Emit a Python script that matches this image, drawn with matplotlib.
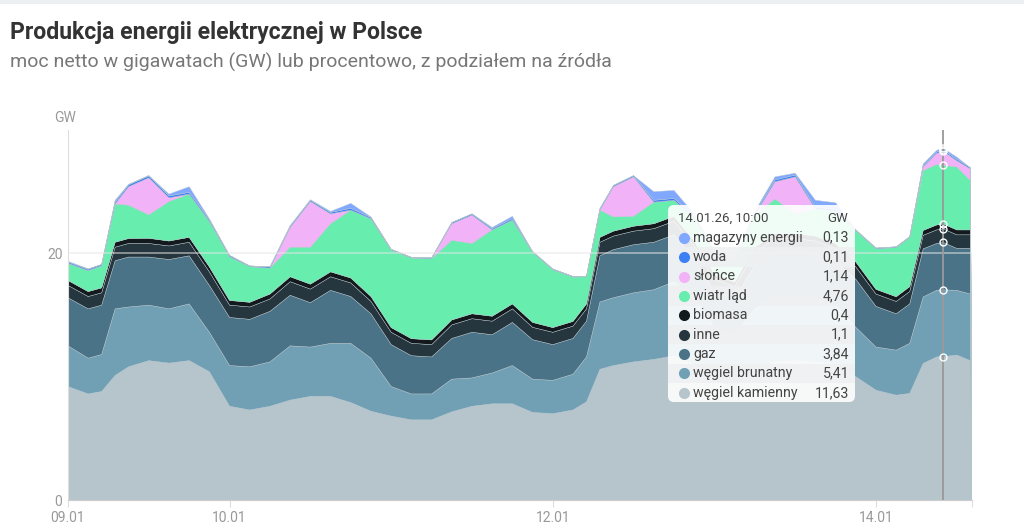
import numpy as np
import matplotlib
matplotlib.use("Agg")
import matplotlib.pyplot as plt
from matplotlib.patches import FancyBboxPatch, Rectangle

# ---------------- data (GW), hours since 09.01 00:00 ----------------
hours = [0, 3, 5, 7, 9, 12, 15, 18, 21, 24, 27, 30, 33, 36, 39, 42, 45, 48, 51, 54, 57,
         60, 63, 66, 69, 72, 75, 77, 79, 81, 84, 87, 90, 93, 96, 99, 102, 105, 108, 111,
         114, 117, 120, 123, 125, 127, 129, 130, 132, 134, 134.25]

wegiel_kamienny = [9.2, 8.6, 8.8, 10.1, 10.8, 11.3, 11.1, 11.3, 10.4, 7.6, 7.3, 7.6, 8.1,
                   8.4, 8.4, 7.9, 7.2, 6.8, 6.5, 6.5, 7.15, 7.6, 7.8, 7.8, 7.1, 7.0, 7.3,
                   7.96, 10.6, 10.9, 11.2, 11.4, 11.7, 11.0, 9.6, 9.2, 10.5, 11.2, 11.3,
                   11.2, 11.0, 10.0, 8.9, 8.5, 8.64, 11.07, 11.6, 11.63, 11.75, 11.3, 0]
wegiel_brunatny = [3.3, 2.9, 3.0, 5.4, 4.85, 4.5, 4.4, 4.6, 3.2, 3.3, 3.5, 3.6, 4.4, 4.0,
                   4.3, 4.8, 4.3, 2.4, 2.1, 2.1, 2.65, 2.3, 2.5, 3.1, 2.7, 2.7, 2.9, 3.64,
                   5.46, 5.5, 5.6, 5.65, 6.0, 5.5, 4.4, 4.2, 5.0, 5.3, 5.3, 5.2, 4.8, 4.0,
                   3.5, 3.65, 4.06, 5.39, 5.4, 5.41, 5.25, 5.4, 0]
gaz = [3.9, 4.0, 4.0, 3.9, 4.05, 3.9, 4.0, 3.9, 3.8, 3.9, 3.85, 4.1, 4.1, 3.6, 4.3, 3.8,
       3.6, 3.4, 3.1, 3.0, 3.3, 3.7, 3.1, 3.5, 3.2, 2.9, 2.9, 2.9, 3.74, 3.9, 3.9, 3.85,
       3.8, 3.0, 2.9, 2.9, 3.5, 3.6, 3.5, 3.5, 3.5, 3.9, 3.3, 2.95, 3.2, 3.9, 3.8, 3.84,
       3.4, 3.7, 0]
inne = [1.0, 1.0, 1.0, 1.1, 1.1, 1.1, 1.1, 1.1, 1.1, 1.0, 1.0, 1.0, 1.1, 1.1, 1.1, 1.1,
        1.0, 1.0, 1.0, 1.0, 1.1, 1.1, 1.1, 1.1, 1.0, 1.0, 1.0, 1.0, 1.1, 1.1, 1.1, 1.1,
        1.1, 1.1, 1.0, 1.0, 1.1, 1.1, 1.1, 1.1, 1.1, 1.0, 1.0, 1.0, 1.0, 1.1, 1.1, 1.1,
        1.1, 1.1, 0]
biomasa = [0.4, 0.4, 0.4, 0.4, 0.4, 0.42, 0.4, 0.4, 0.4, 0.38, 0.38, 0.4, 0.4, 0.4, 0.4,
           0.4, 0.4, 0.38, 0.38, 0.38, 0.4, 0.4, 0.4, 0.4, 0.4, 0.38, 0.38, 0.4, 0.4, 0.4,
           0.4, 0.4, 0.4, 0.4, 0.38, 0.38, 0.4, 0.4, 0.4, 0.4, 0.4, 0.4, 0.38, 0.38, 0.4,
           0.4, 0.4, 0.4, 0.4, 0.4, 0]
wiatr_lad = [1.4, 1.7, 1.8, 3.1, 2.7, 1.9, 3.2, 3.5, 3.7, 3.55, 2.9, 2.1, 2.4, 3.0, 3.9,
             5.5, 6.3, 6.3, 6.55, 6.6, 6.45, 5.7, 7.0, 6.8, 5.7, 4.7, 3.6, 2.2, 2.2, 1.15,
             0.8, 1.75, 1.3, 1.9, 1.7, 1.8, 2.6, 2.8, 1.6, 2.2, 2.6, 2.55, 3.3, 4.0, 4.0,
             4.84, 4.9, 4.76, 5.1, 4.0, 3.8]
slonce = [0, 0, 0, 0, 1.5, 3.0, 0.3, 0, 0, 0, 0, 0, 1.6, 3.7, 0.8, 0, 0, 0, 0, 0, 1.35,
          2.3, 0, 0, 0, 0, 0, 0, 0, 2.45, 3.2, 0, 0, 0, 0, 0, 0, 1.4, 3.0, 0, 0, 0, 0, 0,
          0, 0.3, 0.9, 1.14, 0.5, 0.95, 0.5]
woda = [0.1, 0.1, 0.1, 0.15, 0.15, 0.15, 0.15, 0.15, 0.12, 0.1, 0.05, 0.1, 0.1, 0.1, 0.12,
        0.15, 0.1, 0.05, 0.05, 0.05, 0.1, 0.1, 0.1, 0.12, 0.05, 0.05, 0.05, 0.05, 0.1, 0.1,
        0.1, 0.15, 0.15, 0.12, 0.1, 0.1, 0.15, 0.15, 0.15, 0.15, 0.15, 0.05, 0.05, 0.05,
        0.05, 0.1, 0.11, 0.11, 0.12, 0.1, 0]
magazyny_energii = [0.05, 0.05, 0.0, 0.15, 0.05, 0.05, 0.15, 0.45, 0.08, 0, 0, 0, 0.05,
                    0.05, 0.08, 0.4, 0.05, 0, 0, 0, 0, 0, 0.1, 0.18, 0, 0, 0, 0, 0.05, 0,
                    0, 0.7, 0.65, 0.18, 0.1, 0, 0.15, 0.25, 0.15, 0.55, 0.55, 0, 0, 0, 0,
                    0.15, 0.14, 0.13, 0.18, 0, 0]

series_names = ["węgiel kamienny", "węgiel brunatny", "gaz", "inne", "biomasa",
                "wiatr ląd", "słońce", "woda", "magazyny energii"]
series_values = [wegiel_kamienny, wegiel_brunatny, gaz, inne, biomasa,
                 wiatr_lad, slonce, woda, magazyny_energii]
series_colors = ["#b6c5cc", "#71a0b5", "#4b7387", "#26363f", "#131a1e",
                 "#67eeae", "#f2b2f7", "#3d7ff5", "#80a8ff"]

tick_hours = [0, 24, 72, 120]
tick_labels = ["09.01", "10.01", "12.01", "14.01"]
tooltip_hour = 130
tooltip_title = "14.01.26, 10:00"
y_ticks = [0, 20]

# ---------------- figure ----------------
plt.rcParams['font.family'] = ['Roboto', 'DejaVu Sans']
W, H = 1024, 526
fig = plt.figure(figsize=(W / 100, H / 100), dpi=100)
fig.patch.set_facecolor("white")

ax = fig.add_axes([68 / W, (H - 500) / H, (972 - 68) / W, (500 - 130) / H])
ax.stackplot(hours, *series_values, colors=series_colors, linewidth=0.3,
             edgecolors=series_colors, zorder=2)
ax.set_xlim(0, 134.25)
ax.set_ylim(0, 30)

ax.axhline(20, color="#e6e6e6", lw=1.2, alpha=0.6, zorder=3)

for s in ["top", "right"]:
    ax.spines[s].set_visible(False)
ax.spines["left"].set_color("#dddddd")
ax.spines["bottom"].set_color("#cccccc")
ax.set_yticks(y_ticks)
ax.set_yticklabels([str(v) for v in y_ticks], color="#999999", fontsize=10)
ax.tick_params(axis="y", length=0, pad=4)
ax.set_xticks(tick_hours + [134.25])
ax.set_xticklabels(tick_labels + [""], color="#999999", fontsize=10)
ax.tick_params(axis="x", length=5, color="#dddddd", pad=3)

# hover line and markers
idx = hours.index(tooltip_hour)
vals_at = [s[idx] for s in series_values]
cum = np.cumsum(vals_at)
ax.axvline(tooltip_hour, color="#999999", lw=1.3, zorder=4)
ax.plot([tooltip_hour] * len(cum), cum, "o", ms=5, mfc="none", mec="white",
        mew=1.0, zorder=5)

# overlay in pixel coordinates
ov = fig.add_axes([0, 0, 1, 1], zorder=10)
ov.set_xlim(0, W)
ov.set_ylim(H, 0)
ov.axis("off")
ov.patch.set_alpha(0)

ov.add_patch(Rectangle((0, 0), W, 4, color="#eceff1", lw=0))
ov.text(10, 33, "Produkcja energii elektrycznej w Polsce", fontsize=16.6,
        fontweight="bold", color="#333333", va="center", ha="left")
ov.text(10, 62, "moc netto w gigawatach (GW) lub procentowo, z podziałem na źródła",
        fontsize=14, color="#777777", va="center", ha="left")
ov.text(65, 118, "GW", fontsize=10, color="#999999", va="center", ha="center")

# tooltip
tx0, ty0, tw, th = 668, 205, 187, 197
ov.add_patch(FancyBboxPatch((tx0, ty0), tw, th,
                            boxstyle="round,pad=0,rounding_size=6",
                            fc="white", ec="none", alpha=0.9))
ov.text(tx0 + 10, ty0 + 13, tooltip_title, fontsize=9.5, color="#444444",
        va="center", ha="left")
ov.text(tx0 + tw - 7, ty0 + 13, "GW", fontsize=9.5, color="#444444",
        va="center", ha="right")
row_h = 19.4
row_top = ty0 + 23
for i, j in enumerate(range(len(series_names) - 1, -1, -1)):
    yc = row_top + row_h * i + row_h / 2
    if i % 2 == 1:
        ov.add_patch(Rectangle((tx0, yc - row_h / 2), tw, row_h, fc="#eef0f2",
                               ec="none", alpha=0.85))
    ov.plot([tx0 + 16], [yc], "o", ms=8, color=series_colors[j], mec="none")
    ov.text(tx0 + 25, yc, series_names[j], fontsize=10.2, color="#444444",
            va="center", ha="left")
    v = series_values[j][idx]
    ov.text(tx0 + tw - 6, yc, f"{v:g}".replace(".", ","), fontsize=10.2,
            color="#444444", va="center", ha="right")

fig.savefig("out.png", dpi=100)
